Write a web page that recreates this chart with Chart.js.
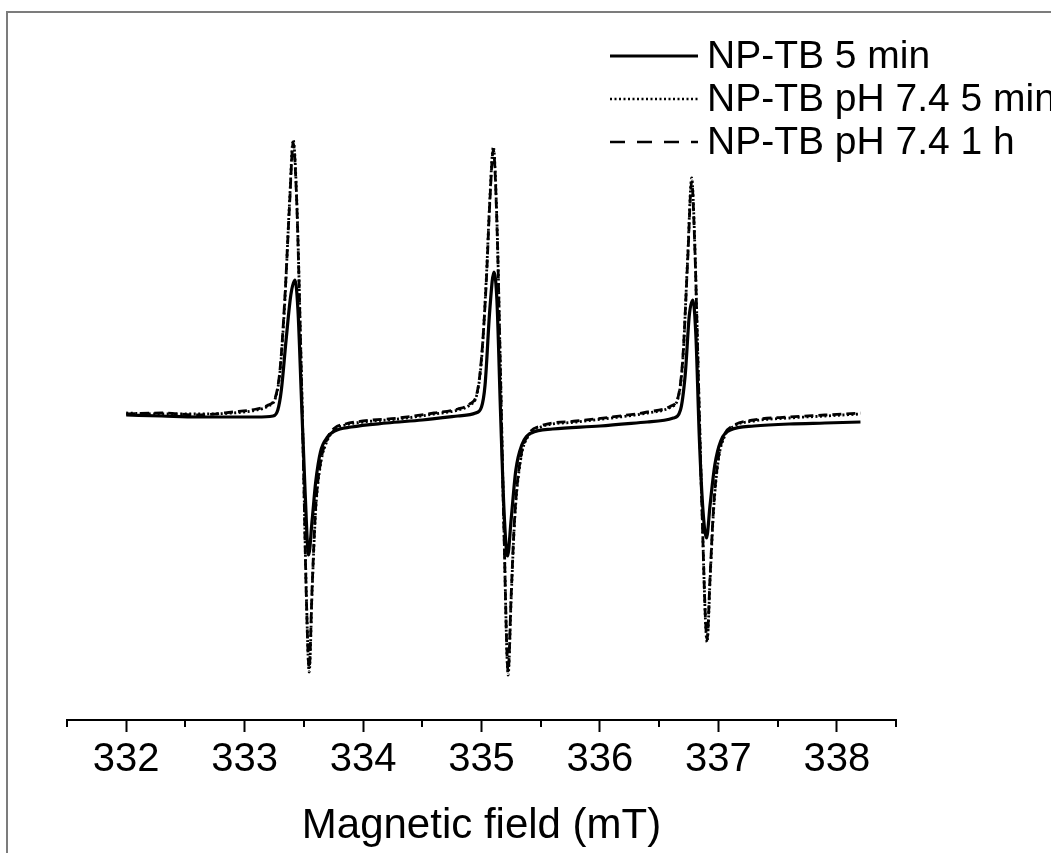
<!DOCTYPE html>
<html>
<head>
<meta charset="utf-8">
<script src="https://cdn.jsdelivr.net/npm/chart.js@4.4.1/dist/chart.umd.min.js"></script>
<style>
  html, body { margin: 0; padding: 0; background: #ffffff; }
  #c { display: block; }
</style>
</head>
<body>
<canvas id="c" width="1051" height="853"></canvas>
<script>
// ---- Data (EPR derivative spectra, arbitrary intensity units) ----
const seriesNames = ['NP-TB 5 min', 'NP-TB pH 7.4 5 min', 'NP-TB pH 7.4 1 h'];

// Solid trace: NP-TB 5 min
const fieldSolid = [332.00, 332.30, 332.60, 332.90, 333.10, 333.24, 333.28, 333.31, 333.35, 333.39, 333.425, 333.45, 333.48, 333.51, 333.54, 333.57, 333.60, 333.64, 333.70, 333.76, 333.90, 334.20, 334.50, 334.80, 334.95, 335.00, 335.03, 335.07, 335.105, 335.13, 335.16, 335.19, 335.22, 335.25, 335.29, 335.34, 335.42, 335.60, 336.00, 336.40, 336.62, 336.68, 336.72, 336.755, 336.785, 336.81, 336.84, 336.87, 336.90, 336.93, 336.97, 337.02, 337.10, 337.30, 337.60, 337.90, 338.20];
const valSolid = [0, -1, -2, -2, -2, -1, 5, 25, 75, 120, 135, 105, 15, -75, -140, -105, -67, -37, -22, -16, -12, -8, -5, -1, 2, 8, 30, 105, 143, 115, 5, -95, -141, -105, -55, -30, -18, -14, -11, -7, -3, 5, 40, 100, 115, 80, -25, -95, -123, -90, -50, -26, -15, -11, -9, -8, -7];

// Dotted and dashed traces: NP-TB pH 7.4 (5 min, 1 h)
const fieldPH = [332.00, 332.30, 332.60, 332.90, 333.10, 333.20, 333.26, 333.30, 333.34, 333.38, 333.41, 333.44, 333.47, 333.50, 333.52, 333.545, 333.57, 333.60, 333.64, 333.70, 333.76, 333.85, 334.00, 334.30, 334.60, 334.80, 334.90, 334.96, 335.00, 335.04, 335.07, 335.10, 335.13, 335.16, 335.19, 335.225, 335.25, 335.28, 335.33, 335.40, 335.50, 335.80, 336.10, 336.40, 336.60, 336.66, 336.70, 336.74, 336.775, 336.80, 336.83, 336.86, 336.905, 336.93, 336.96, 337.00, 337.05, 337.12, 337.30, 337.60, 337.90, 338.20];
const valPH5min = [2, 1, 1, 2, 5, 9, 17, 45, 115, 215, 275, 215, 85, -65, -175, -257, -175, -95, -50, -25, -15, -10, -7, -4, 1, 5, 10, 20, 55, 135, 215, 268, 195, 45, -115, -260, -185, -105, -45, -20, -12, -7, -3, 2, 8, 17, 55, 155, 237, 175, 45, -85, -227, -165, -95, -45, -22, -12, -6, -3, -1, 1];
const valPH1h   = [1, 2, 0, 3, 6, 10, 18, 47, 118, 212, 272, 212, 82, -68, -178, -253, -172, -92, -48, -23, -13, -9, -6, -3, 2, 6, 11, 21, 57, 132, 212, 265, 192, 42, -118, -256, -182, -102, -43, -19, -11, -6, -2, 3, 9, 18, 57, 152, 233, 172, 42, -88, -224, -162, -92, -43, -20, -11, -5, -2, 0, 2];

// Axis ticks
const xMin = 331.5, xMax = 338.5;
const majorTicks = [332, 333, 334, 335, 336, 337, 338];
const minorTicks = [331.5, 332.5, 333.5, 334.5, 335.5, 336.5, 337.5, 338.5];

const FONT = '"Liberation Sans", Arial, sans-serif';

function toPoints(xs, ys) { return xs.map((x, i) => ({ x: x, y: ys[i] })); }

const framePlugin = {
  id: 'frame',
  beforeDraw(chart) {
    const ctx = chart.ctx;
    ctx.save();
    ctx.fillStyle = '#ffffff';
    ctx.fillRect(0, 0, chart.width, chart.height);
    ctx.strokeStyle = '#7c7c7c';
    ctx.lineWidth = 2;
    ctx.strokeRect(7, 12, 2000, 2000);
    ctx.restore();
  }
};

const minorTickPlugin = {
  id: 'minorTicks',
  afterDraw(chart) {
    const sc = chart.scales.x;
    const ctx = chart.ctx;
    ctx.save();
    ctx.strokeStyle = '#000';
    ctx.lineWidth = 2;
    minorTicks.forEach(v => {
      const px = Math.round(sc.getPixelForValue(v));
      ctx.beginPath();
      ctx.moveTo(px, sc.top);
      ctx.lineTo(px, sc.top + 7);
      ctx.stroke();
    });
    ctx.restore();
  }
};

const legendPlugin = {
  id: 'customLegend',
  afterDraw(chart) {
    const ctx = chart.ctx;
    const rows = [
      { y: 56, dash: [], width: 3 },
      { y: 99, dash: [2, 2.5], width: 2.5 },
      { y: 142, dash: [15, 12], width: 2.5 }
    ];
    ctx.save();
    ctx.font = '39px ' + FONT;
    ctx.fillStyle = '#000';
    ctx.textBaseline = 'middle';
    ctx.textAlign = 'left';
    rows.forEach((r, i) => {
      ctx.strokeStyle = '#000';
      ctx.lineWidth = r.width;
      ctx.setLineDash(r.dash);
      ctx.beginPath();
      ctx.moveTo(610, r.y);
      ctx.lineTo(698, r.y);
      ctx.stroke();
      ctx.setLineDash([]);
      ctx.fillText(seriesNames[i], 707, r.y + 1);
    });
    ctx.restore();
  }
};

new Chart(document.getElementById('c'), {
  type: 'line',
  data: {
    datasets: [
      { label: seriesNames[0], data: toPoints(fieldSolid, valSolid), borderColor: '#000', borderWidth: 3.2, pointRadius: 0, cubicInterpolationMode: 'monotone', fill: false },
      { label: seriesNames[1], data: toPoints(fieldPH, valPH5min), borderColor: '#000', borderWidth: 2.8, borderDash: [2, 2.5], pointRadius: 0, cubicInterpolationMode: 'monotone', fill: false },
      { label: seriesNames[2], data: toPoints(fieldPH, valPH1h), borderColor: '#000', borderWidth: 2.8, borderDash: [9, 5], pointRadius: 0, cubicInterpolationMode: 'monotone', fill: false }
    ]
  },
  options: {
    responsive: false,
    animation: false,
    devicePixelRatio: 1,
    layout: { padding: { left: 67, right: 155, top: 20, bottom: 0 } },
    plugins: { legend: { display: false }, tooltip: { enabled: false } },
    scales: {
      x: {
        type: 'linear',
        min: xMin,
        max: xMax,
        afterFit(scale) { scale.height = 133; },
        afterBuildTicks(scale) {
          scale.ticks = majorTicks.map(v => ({ value: v }));
        },
        grid: { display: true, drawOnChartArea: false, drawTicks: true, tickLength: 12, tickWidth: 2, tickColor: '#000' },
        border: { display: true, color: '#000', width: 2 },
        ticks: {
          autoSkip: false,
          maxRotation: 0,
          padding: 4,
          color: '#000',
          font: { family: FONT, size: 40 },
          callback: v => String(v)
        },
        title: {
          display: true,
          text: 'Magnetic field (mT)',
          color: '#000',
          font: { family: FONT, size: 42 },
          padding: { top: 0, bottom: 1 }
        }
      },
      y: {
        type: 'linear',
        display: false,
        min: -305,
        max: 395
      }
    }
  },
  plugins: [framePlugin, minorTickPlugin, legendPlugin]
});
</script>
</body>
</html>
